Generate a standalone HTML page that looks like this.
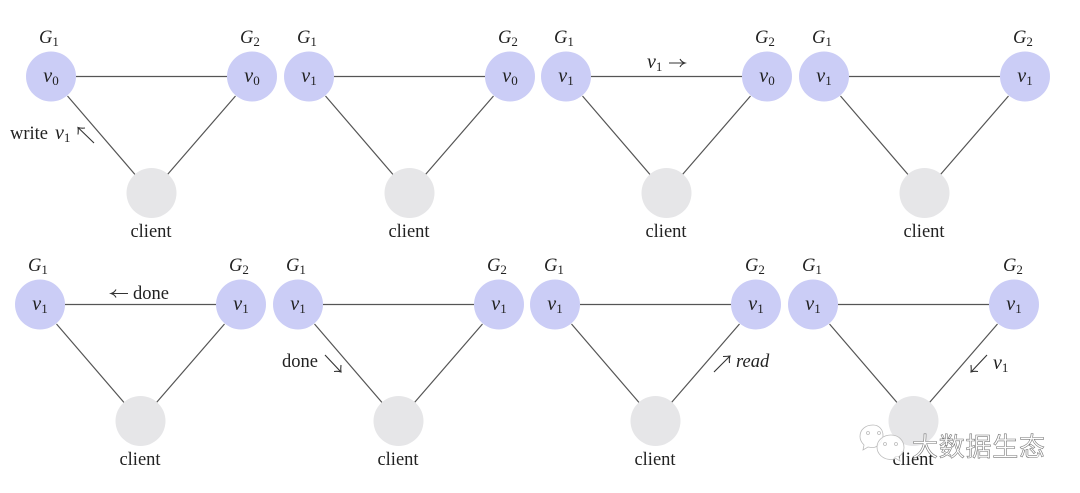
<!DOCTYPE html>
<html lang="en">
<head>
<meta charset="utf-8">
<title>Replication diagram</title>
<style>
html,body{margin:0;padding:0;background:#fff;width:1080px;height:493px;overflow:hidden}
svg{display:block;filter:blur(.35px)}
text{font-family:"Liberation Serif",serif;fill:#222;font-size:18.5px}
.i{font-style:italic}
.m{font-style:italic;text-anchor:middle;font-size:20px}
.v{font-size:20px}
.c{text-anchor:middle}
.s{font-size:13px;font-style:normal}
.wm{font-family:"Liberation Sans","Noto Sans CJK SC",sans-serif;font-size:26px;fill:#fff;stroke:#777;stroke-width:.6px}
</style>
</head>
<body>
<svg width="1080" height="493" viewBox="0 0 1080 493" xmlns="http://www.w3.org/2000/svg">
<defs>
<g id="p">
<path d="M76 76.500H227M67.500 96L135 174.500M235.500 96L167.500 174.500" stroke="#555" stroke-width="1.200" fill="none"/>
<circle cx="51" cy="76.500" r="25" fill="#cbcdf6"/>
<circle cx="252" cy="76.500" r="25" fill="#cbcdf6"/>
<circle cx="151.500" cy="193" r="25" fill="#e6e6e8"/>
</g>
</defs>
<rect width="1080" height="493" fill="#fff"/>

<use href="#p"/>
<use href="#p" x="258"/>
<use href="#p" x="515"/>
<use href="#p" x="773"/>
<use href="#p" x="-11" y="228"/>
<use href="#p" x="247" y="228"/>
<use href="#p" x="504" y="228"/>
<use href="#p" x="762" y="228"/>

<!-- Row 1 -->
<g>
<text x="39" y="43" class="i">G<tspan class="s" dy="3">1</tspan></text>
<text x="240" y="43" class="i">G<tspan class="s" dy="3">2</tspan></text>
<text x="51" y="82" class="m">v<tspan class="s" dy="3">0</tspan></text>
<text x="252" y="82" class="m">v<tspan class="s" dy="3">0</tspan></text>
<text x="151" y="237" class="c">client</text>
<text x="10" y="139">write</text>
<text x="55" y="139" class="i v">v<tspan class="s" dy="3">1</tspan></text>

<text x="297" y="43" class="i">G<tspan class="s" dy="3">1</tspan></text>
<text x="498" y="43" class="i">G<tspan class="s" dy="3">2</tspan></text>
<text x="309" y="82" class="m">v<tspan class="s" dy="3">1</tspan></text>
<text x="510" y="82" class="m">v<tspan class="s" dy="3">0</tspan></text>
<text x="409" y="237" class="c">client</text>

<text x="554" y="43" class="i">G<tspan class="s" dy="3">1</tspan></text>
<text x="755" y="43" class="i">G<tspan class="s" dy="3">2</tspan></text>
<text x="566" y="82" class="m">v<tspan class="s" dy="3">1</tspan></text>
<text x="767" y="82" class="m">v<tspan class="s" dy="3">0</tspan></text>
<text x="666" y="237" class="c">client</text>
<text x="647" y="68" class="i v">v<tspan class="s" dy="3">1</tspan></text>

<text x="812" y="43" class="i">G<tspan class="s" dy="3">1</tspan></text>
<text x="1013" y="43" class="i">G<tspan class="s" dy="3">2</tspan></text>
<text x="824" y="82" class="m">v<tspan class="s" dy="3">1</tspan></text>
<text x="1025" y="82" class="m">v<tspan class="s" dy="3">1</tspan></text>
<text x="924" y="237" class="c">client</text>
</g>

<!-- Row 2 -->
<g>
<text x="28" y="271" class="i">G<tspan class="s" dy="3">1</tspan></text>
<text x="229" y="271" class="i">G<tspan class="s" dy="3">2</tspan></text>
<text x="40" y="310" class="m">v<tspan class="s" dy="3">1</tspan></text>
<text x="241" y="310" class="m">v<tspan class="s" dy="3">1</tspan></text>
<text x="140" y="465" class="c">client</text>
<text x="133" y="299">done</text>

<text x="286" y="271" class="i">G<tspan class="s" dy="3">1</tspan></text>
<text x="487" y="271" class="i">G<tspan class="s" dy="3">2</tspan></text>
<text x="298" y="310" class="m">v<tspan class="s" dy="3">1</tspan></text>
<text x="499" y="310" class="m">v<tspan class="s" dy="3">1</tspan></text>
<text x="398" y="465" class="c">client</text>
<text x="282" y="367">done</text>

<text x="544" y="271" class="i">G<tspan class="s" dy="3">1</tspan></text>
<text x="745" y="271" class="i">G<tspan class="s" dy="3">2</tspan></text>
<text x="555" y="310" class="m">v<tspan class="s" dy="3">1</tspan></text>
<text x="756" y="310" class="m">v<tspan class="s" dy="3">1</tspan></text>
<text x="655" y="465" class="c">client</text>
<text x="736" y="367" class="i">read</text>

<text x="802" y="271" class="i">G<tspan class="s" dy="3">1</tspan></text>
<text x="1003" y="271" class="i">G<tspan class="s" dy="3">2</tspan></text>
<text x="813" y="310" class="m">v<tspan class="s" dy="3">1</tspan></text>
<text x="1014" y="310" class="m">v<tspan class="s" dy="3">1</tspan></text>
<text x="913" y="465" class="c">client</text>
<text x="993" y="369" class="i v">v<tspan class="s" dy="3">1</tspan></text>
</g>

<!-- Arrows -->
<g fill="none" stroke="#333" stroke-width="1.100">
<path d="M94 143L78 127.500M78 134.500Q78.500 130 78 127.500Q81 128.500 85 128"/>
<path d="M669 63H685M680 59Q681.500 62 685 63Q681.500 64 680 67"/>
<path d="M128 293.500H111M116 289.500Q114.500 292.500 111 293.500Q114.500 294.500 116 297.500"/>
<path d="M325 355L341 372M341 365Q340.500 369 341 372Q338 371 334 371.500"/>
<path d="M714 372L730 356M723 356.500Q727 356.500 730 356Q729 359 729.500 363"/>
<path d="M987 355L971 372M971 365Q971.500 369 971 372Q974 371 978 371.500"/>
</g>

<!-- Watermark -->
<g fill="#fff" fill-opacity=".85" stroke="#bbb" stroke-width=".8">
<path d="M873 425c-8 0-13 5-13 11.500 0 4 2 6.500 4 8.500l-1 5 5-3c2 .5 3 .5 5 .5 5 0 10-7 10-12 0-6-4-10.500-10-10.500z"/>
<path d="M891 435c-8 0-14 5.500-14 12 0 7 6 12.500 14 12.500 2 0 3-.5 5-1l4 2.500-1-4.500c3-2 5-5 5-9 0-6.500-5-12.500-13-12.500z"/>
<circle cx="885" cy="444" r="1.500"/>
<circle cx="896" cy="444" r="1.500"/>
<circle cx="868" cy="433" r="1.500"/>
<circle cx="879" cy="433" r="1.500"/>
</g>
<text x="912" y="456" class="wm" textLength="133">大数据生态</text>
</svg>
</body>
</html>
